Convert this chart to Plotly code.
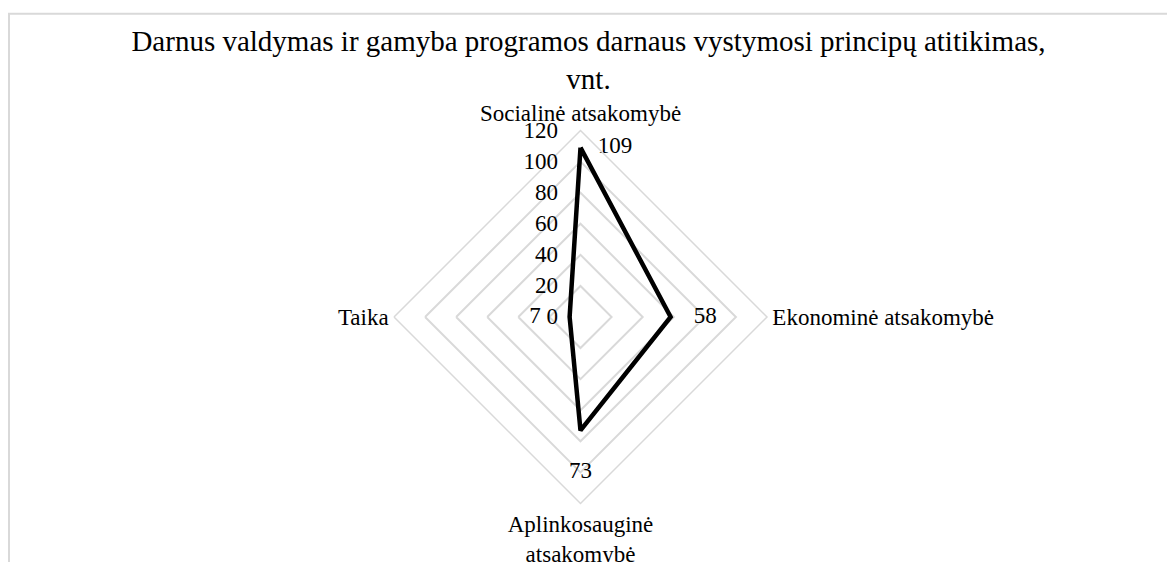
import plotly.graph_objects as go

categories = ["Socialinė atsakomybė", "Ekonominė atsakomybė", "Aplinkosauginė atsakomybė", "Taika"]
tick_labels = ["Socialinė atsakomybė", "Ekonominė atsakomybė", "Aplinkosauginė<br>atsakomybė", "Taika"]
values = [109, 58, 73, 7]
radial_ticks = [0, 20, 40, 60, 80, 100, 120]
title_text = "Darnus valdymas ir gamyba programos darnaus vystymosi principų atitikimas,<br>vnt."

NB = "\u00a0"
label_text = [NB * 3 + str(values[0]), NB * 4 + str(values[1]),
              "<br>" + str(values[2]), str(values[3]) + NB * 5]
label_pos = ["middle right", "middle right", "bottom center", "middle left"]

FONT = "Liberation Serif"
GRID = "#d9d9d9"

# page body has an 8px margin; work in figure coordinates (screen - 8)
W, H = 1167, 554
cx, cy, R = 572.5, 309, 186.5

fig = go.Figure()
fig.add_trace(go.Scatterpolar(
    r=values + [values[0]],
    theta=categories + [categories[0]],
    mode="lines",
    line=dict(color="black", width=4.5),
    hoverinfo="skip",
    showlegend=False,
))
fig.add_trace(go.Scatterpolar(
    r=values,
    theta=categories,
    mode="text",
    text=label_text,
    textposition=label_pos,
    textfont=dict(family=FONT, size=23, color="#000"),
    hoverinfo="skip",
    showlegend=False,
))

fig.update_layout(
    width=W, height=H,
    margin=dict(l=0, r=0, t=0, b=0),
    paper_bgcolor="white",
    plot_bgcolor="white",
    font=dict(family=FONT, size=23, color="#000"),
    title=dict(text=title_text, x=580.5 / W, xanchor="center", y=1 - 43 / H, yanchor="top",
               font=dict(family=FONT, size=29, color="#000")),
    polar=dict(
        domain=dict(x=[(cx - R) / W, (cx + R) / W], y=[(H - cy - R) / H, (H - cy + R) / H]),
        bgcolor="white",
        gridshape="linear",
        angularaxis=dict(
            type="category",
            categoryarray=categories,
            tickmode="array",
            tickvals=categories,
            ticktext=tick_labels,
            rotation=90,
            direction="clockwise",
            showgrid=False,
            showline=True,
            linecolor=GRID,
            linewidth=1.5,
            ticks="",
            tickfont=dict(family=FONT, size=23, color="#000"),
        ),
        radialaxis=dict(
            range=[0, 120],
            tickmode="array",
            tickvals=radial_ticks,
            angle=90,
            tickangle=90,
            side="counterclockwise",
            showline=False,
            ticks="outside",
            ticklen=14,
            tickcolor="rgba(0,0,0,0)",
            showgrid=True,
            gridcolor=GRID,
            gridwidth=1.5,
            tickfont=dict(family=FONT, size=23, color="#000"),
        ),
    ),
    shapes=[dict(type="rect", xref="paper", yref="paper",
                 x0=1 / W, x1=1.05, y0=-0.05, y1=1 - 5.8 / H,
                 line=dict(color=GRID, width=2), fillcolor="rgba(0,0,0,0)", layer="below")],
)

fig.write_html("out.html")
